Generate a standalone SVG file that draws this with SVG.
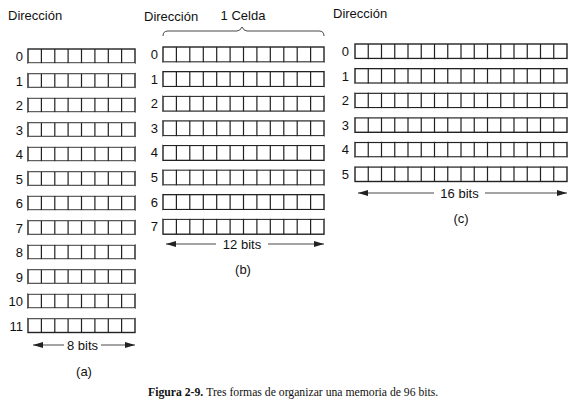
<svg xmlns="http://www.w3.org/2000/svg" width="576" height="415" viewBox="0 0 576 415">
<defs>
<style>
text{font-family:"Liberation Sans",Arial,sans-serif;font-size:13px;fill:#111}
.lbl{text-anchor:end}
.cap{font-family:"Liberation Serif","Times New Roman",serif;font-size:11.7px}
.box{fill:#fff;stroke:#222;stroke-width:1.4}
.div{stroke:#222;stroke-width:1.2}
.dim{stroke:#333;stroke-width:0.9;fill:none}
</style>
<marker id="ah" viewBox="0 0 10 6" refX="10" refY="3" markerWidth="10" markerHeight="6" orient="auto-start-reverse" markerUnits="userSpaceOnUse">
<path d="M0,0 L10,3 L0,6 z" fill="#222"/>
</marker>
</defs>

<text x="8" y="20">Dirección</text>
<text x="144" y="21">Dirección</text>
<text x="243" y="20" text-anchor="middle">1 Celda</text>
<text x="333" y="18">Dirección</text>

<!-- (a) 12 rows x 8 bits -->
<g id="memA">
<rect class="box" x="28" y="49" width="107" height="14"/>
<rect class="box" x="28" y="73.5" width="107" height="14"/>
<rect class="box" x="28" y="98" width="107" height="14"/>
<rect class="box" x="28" y="122.5" width="107" height="14"/>
<rect class="box" x="28" y="147" width="107" height="14"/>
<rect class="box" x="28" y="171.5" width="107" height="14"/>
<rect class="box" x="28" y="196" width="107" height="14"/>
<rect class="box" x="28" y="220.5" width="107" height="14"/>
<rect class="box" x="28" y="245" width="107" height="14"/>
<rect class="box" x="28" y="269.5" width="107" height="14"/>
<rect class="box" x="28" y="294" width="107" height="14"/>
<rect class="box" x="28" y="318.5" width="107" height="14"/>
<path class="div" d="M41.4,49V332.5M54.8,49V332.5M68.1,49V332.5M81.5,49V332.5M94.9,49V332.5M108.3,49V332.5M121.6,49V332.5"/>
<path stroke="#fff" stroke-width="10.0" d="M28,68.25H135M28,92.75H135M28,117.25H135M28,141.75H135M28,166.25H135M28,190.75H135M28,215.25H135M28,239.75H135M28,264.25H135M28,288.75H135M28,313.25H135"/>
<g class="lbl">
<text x="23" y="61">0</text><text x="23" y="85.5">1</text><text x="23" y="110">2</text><text x="23" y="134.5">3</text>
<text x="23" y="159">4</text><text x="23" y="183.5">5</text><text x="23" y="208">6</text><text x="23" y="232.5">7</text>
<text x="23" y="257">8</text><text x="23" y="281.5">9</text><text x="23" y="306">10</text><text x="23" y="330.5">11</text>
</g>
</g>

<!-- (b) 8 rows x 12 bits -->
<g id="memB">
<rect class="box" x="163" y="47" width="161" height="15"/>
<rect class="box" x="163" y="71.6" width="161" height="15"/>
<rect class="box" x="163" y="96.2" width="161" height="15"/>
<rect class="box" x="163" y="120.8" width="161" height="15"/>
<rect class="box" x="163" y="145.4" width="161" height="15"/>
<rect class="box" x="163" y="170" width="161" height="15"/>
<rect class="box" x="163" y="194.6" width="161" height="15"/>
<rect class="box" x="163" y="219.2" width="161" height="15"/>
<path class="div" d="M176.4,47V234.2M189.8,47V234.2M203.3,47V234.2M216.7,47V234.2M230.1,47V234.2M243.5,47V234.2M256.9,47V234.2M270.3,47V234.2M283.8,47V234.2M297.2,47V234.2M310.6,47V234.2"/>
<path stroke="#fff" stroke-width="8.6" d="M163,66.8H324M163,91.4H324M163,116H324M163,140.6H324M163,165.2H324M163,189.8H324M163,214.4H324"/>
<g class="lbl">
<text x="158" y="59">0</text><text x="158" y="83.6">1</text><text x="158" y="108.2">2</text><text x="158" y="132.8">3</text>
<text x="158" y="157.4">4</text><text x="158" y="182">5</text><text x="158" y="206.6">6</text><text x="158" y="231.2">7</text>
</g>
</g>

<!-- (c) 6 rows x 16 bits -->
<g id="memC">
<rect class="box" x="355" y="44" width="212" height="14.5"/>
<rect class="box" x="355" y="68.6" width="212" height="14.5"/>
<rect class="box" x="355" y="93.2" width="212" height="14.5"/>
<rect class="box" x="355" y="117.8" width="212" height="14.5"/>
<rect class="box" x="355" y="142.4" width="212" height="14.5"/>
<rect class="box" x="355" y="167" width="212" height="14.5"/>
<path class="div" d="M368.25,44V181.5M381.5,44V181.5M394.75,44V181.5M408,44V181.5M421.25,44V181.5M434.5,44V181.5M447.75,44V181.5M461,44V181.5M474.25,44V181.5M487.5,44V181.5M500.75,44V181.5M514,44V181.5M527.25,44V181.5M540.5,44V181.5M553.75,44V181.5"/>
<path stroke="#fff" stroke-width="8.8" d="M355,63.55H567M355,88.15H567M355,112.75H567M355,137.35H567M355,161.95H567"/>
<g class="lbl">
<text x="349" y="56">0</text><text x="349" y="80.6">1</text><text x="349" y="105.2">2</text>
<text x="349" y="129.8">3</text><text x="349" y="154.4">4</text><text x="349" y="179">5</text>
</g>
</g>

<g id="connectors">
<path class="dim" d="M163,36 Q163,31 168,31 L237,31 Q240,31 242,27 Q244,31 247,31 L319,31 Q324,31 324,36"/>
<line class="dim" x1="33" y1="345" x2="64" y2="345" marker-start="url(#ah)"/>
<line class="dim" x1="101" y1="345" x2="135" y2="345" marker-end="url(#ah)"/>
<line class="dim" x1="166" y1="244" x2="216" y2="244" marker-start="url(#ah)"/>
<line class="dim" x1="268" y1="244" x2="324" y2="244" marker-end="url(#ah)"/>
<line class="dim" x1="358" y1="193" x2="434" y2="193" marker-start="url(#ah)"/>
<line class="dim" x1="485" y1="193" x2="567" y2="193" marker-end="url(#ah)"/>
</g>

<text x="82.5" y="349.5" text-anchor="middle">8 bits</text>
<text x="242" y="248.5" text-anchor="middle">12 bits</text>
<text x="459.5" y="197.5" text-anchor="middle">16 bits</text>
<text x="84" y="376" text-anchor="middle">(a)</text>
<text x="243" y="274" text-anchor="middle">(b)</text>
<text x="461" y="223" text-anchor="middle">(c)</text>

<text class="cap" x="148" y="396"><tspan font-weight="bold">Figura 2-9.</tspan><tspan dx="3">Tres formas de organizar una memoria de 96 bits.</tspan></text>
</svg>
